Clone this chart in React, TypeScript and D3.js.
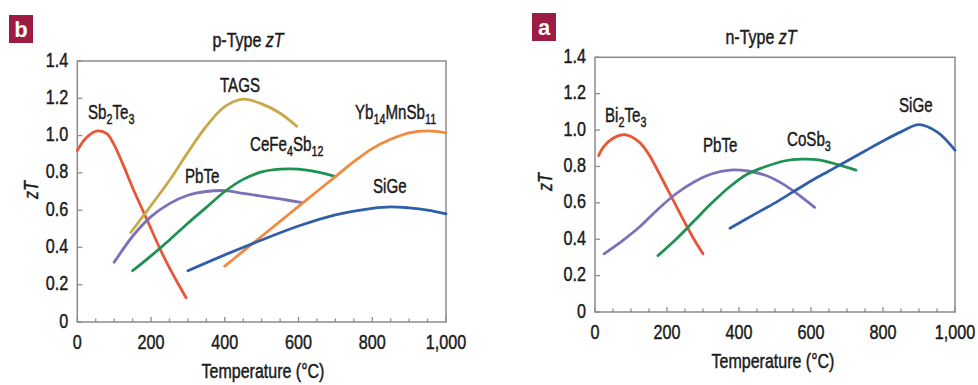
import React from "react";
import * as d3 from "d3";

type Pt = [number, number];

// p-type series (temperature °C, zT)
const pSb2Te3: Pt[] = [[0,0.92],[25,0.99],[55,1.025],[80,1.01],[100,0.95],[125,0.84],[150,0.72],[175,0.61],[200,0.50],[225,0.39],[250,0.29],[275,0.20],[295,0.13]];
const pTAGS: Pt[] = [[145,0.48],[200,0.625],[250,0.76],[300,0.91],[350,1.05],[400,1.155],[450,1.195],[500,1.17],[550,1.12],[595,1.05]];
const pPbTe: Pt[] = [[100,0.32],[150,0.46],[200,0.565],[250,0.635],[300,0.68],[350,0.70],[400,0.705],[450,0.69],[500,0.675],[550,0.66],[610,0.64]];
const pCeFe4Sb12: Pt[] = [[150,0.275],[200,0.355],[250,0.44],[300,0.53],[350,0.615],[400,0.70],[450,0.765],[500,0.805],[550,0.82],[600,0.82],[650,0.805],[700,0.78]];
const pYb14MnSb11: Pt[] = [[400,0.30],[450,0.38],[500,0.46],[550,0.54],[600,0.62],[650,0.70],[700,0.78],[750,0.86],[800,0.93],[850,0.98],[900,1.015],[950,1.025],[1000,1.015]];
const pSiGe: Pt[] = [[300,0.275],[400,0.36],[500,0.44],[600,0.515],[700,0.575],[800,0.61],[850,0.618],[900,0.612],[950,0.60],[1000,0.58]];

// n-type series
const nBi2Te3: Pt[] = [[10,0.86],[25,0.91],[50,0.955],[80,0.975],[100,0.965],[125,0.93],[150,0.865],[175,0.775],[200,0.68],[225,0.585],[250,0.49],[275,0.40],[300,0.32]];
const nPbTe: Pt[] = [[25,0.32],[75,0.39],[125,0.47],[175,0.565],[225,0.65],[275,0.715],[325,0.76],[375,0.78],[425,0.775],[475,0.75],[525,0.70],[575,0.63],[610,0.575]];
const nCoSb3: Pt[] = [[175,0.31],[225,0.40],[275,0.50],[325,0.60],[375,0.69],[425,0.76],[475,0.80],[525,0.83],[575,0.84],[625,0.835],[675,0.81],[725,0.78]];
const nSiGe: Pt[] = [[375,0.46],[450,0.545],[500,0.60],[550,0.66],[600,0.72],[650,0.775],[700,0.83],[750,0.885],[800,0.94],[850,0.99],[900,1.03],[950,0.99],[1000,0.89]];

const xTicks = [0, 200, 400, 600, 800, 1000];
const xMinorTicks = d3.range(0, 1001, 50);
const yTicks = [0, 0.2, 0.4, 0.6, 0.8, 1.0, 1.2, 1.4];

const COLORS = {
  red: "#e9553b",
  gold: "#c9a848",
  purple: "#7d70b9",
  green: "#1d9253",
  orange: "#f08a3e",
  blue: "#2f5fa8",
};

type Label = { parts: { t: string; sub?: boolean }[]; x: number; y: number };
type Panel = {
  letter: string;
  title: string;
  x0: number; x1: number; y0: number; y1: number;
  series: { data: Pt[]; color: string }[];
  labels: Label[];
  titleX: number; titleY: number;
  letterX: number; letterY: number;
  zTx: number; zTy: number;
  xTitleX: number; xTitleY: number;
};

const FONT = "'Liberation Sans', Arial, sans-serif";
const INK = "#1a1a1a";

function CText({ x, y, sx, size, anchor, children }: { x: number; y: number; sx: number; size: number; anchor?: string; children: React.ReactNode }) {
  return (
    <text transform={`translate(${x},${y}) scale(${sx},1)`} textAnchor={anchor || "start"} fontSize={size} fontFamily={FONT} fill={INK} stroke={INK} strokeWidth={0.45}>
      {children}
    </text>
  );
}

const panels: Panel[] = [
  {
    letter: "b", title: "p-Type", x0: 77.3, x1: 446, y0: 322, y1: 61,
    series: [
      { data: pSb2Te3, color: COLORS.red },
      { data: pTAGS, color: COLORS.gold },
      { data: pPbTe, color: COLORS.purple },
      { data: pCeFe4Sb12, color: COLORS.green },
      { data: pYb14MnSb11, color: COLORS.orange },
      { data: pSiGe, color: COLORS.blue },
    ],
    labels: [
      { parts: [{ t: "Sb" }, { t: "2", sub: true }, { t: "Te" }, { t: "3", sub: true }], x: 88, y: 119 },
      { parts: [{ t: "TAGS" }], x: 220, y: 92 },
      { parts: [{ t: "Yb" }, { t: "14", sub: true }, { t: "MnSb" }, { t: "11", sub: true }], x: 355, y: 119 },
      { parts: [{ t: "CeFe" }, { t: "4", sub: true }, { t: "Sb" }, { t: "12", sub: true }], x: 250, y: 151 },
      { parts: [{ t: "PbTe" }], x: 185, y: 183 },
      { parts: [{ t: "SiGe" }], x: 373, y: 193 },
    ],
    titleX: 248, titleY: 47, letterX: 9, letterY: 15, zTx: 32, zTy: 190, xTitleX: 263, xTitleY: 378,
  },
  {
    letter: "a", title: "n-Type", x0: 595, x1: 955, y0: 312, y1: 57.3,
    series: [
      { data: nBi2Te3, color: COLORS.red },
      { data: nPbTe, color: COLORS.purple },
      { data: nCoSb3, color: COLORS.green },
      { data: nSiGe, color: COLORS.blue },
    ],
    labels: [
      { parts: [{ t: "Bi" }, { t: "2", sub: true }, { t: "Te" }, { t: "3", sub: true }], x: 605, y: 122 },
      { parts: [{ t: "PbTe" }], x: 703, y: 152 },
      { parts: [{ t: "CoSb" }, { t: "3", sub: true }], x: 787, y: 146 },
      { parts: [{ t: "SiGe" }], x: 899, y: 112 },
    ],
    titleX: 761, titleY: 44, letterX: 532, letterY: 13, zTx: 546, zTy: 182, xTitleX: 773, xTitleY: 368,
  },
];

function LabelText({ l }: { l: Label }) {
  return (
    <CText x={l.x} y={l.y} sx={0.72} size={21}>
      {l.parts.map((p, i) => {
        const prevSub = i > 0 && l.parts[i - 1].sub;
        const dy = p.sub ? (prevSub ? 0 : 5) : prevSub ? -5 : 0;
        return (
          <tspan key={i} dy={dy} fontSize={p.sub ? 15 : 21}>{p.t}</tspan>
        );
      })}
    </CText>
  );
}

function PanelView({ p }: { p: Panel }) {
  const x = d3.scaleLinear().domain([0, 1000]).range([p.x0, p.x1]);
  const y = d3.scaleLinear().domain([0, 1.4]).range([p.y0, p.y1]);
  const line = d3.line<Pt>().x((d) => x(d[0])).y((d) => y(d[1])).curve(d3.curveCatmullRom.alpha(0.5));
  const axisColor = "#8c8c8c";
  return (
    <g>
      <rect x={p.letterX} y={p.letterY} width={24} height={28} fill="#9c1c44" />
      <text x={p.letterX + 12} y={p.letterY + 22} textAnchor="middle" fontSize={22} fontWeight="bold" fontFamily={FONT} fill="#fff">{p.letter}</text>
      <CText x={p.titleX} y={p.titleY} sx={0.8} size={20} anchor="middle">
        {p.title} <tspan fontStyle="italic">zT</tspan>
      </CText>
      <rect x={p.x0} y={p.y1} width={p.x1 - p.x0} height={p.y0 - p.y1} fill="none" stroke={axisColor} strokeWidth={1.5} />
      {xMinorTicks.map((t) => (
        <line key={"m" + t} x1={x(t)} x2={x(t)} y1={p.y0} y2={p.y0 - (t % 200 === 0 ? 5 : 3.5)} stroke={axisColor} strokeWidth={1.3} />
      ))}
      {yTicks.map((t) => (
        <line key={"y" + t} x1={p.x0} x2={p.x0 + 5} y1={y(t)} y2={y(t)} stroke={axisColor} strokeWidth={1.3} />
      ))}
      {xTicks.map((t) => (
        <CText key={"xl" + t} x={x(t)} y={p.y0 + 27} sx={0.77} size={21} anchor="middle">
          {d3.format(",")(t)}
        </CText>
      ))}
      {yTicks.map((t) => (
        <CText key={"yl" + t} x={p.x0 - 9} y={y(t) + 5.5} sx={0.77} size={21} anchor="end">
          {t === 0 ? "0" : d3.format(".1f")(t)}
        </CText>
      ))}
      <CText x={p.xTitleX} y={p.xTitleY} sx={0.8} size={20} anchor="middle">Temperature (°C)</CText>
      <text transform={`translate(${p.zTx + 6},${p.zTy}) rotate(-90) scale(0.8,1)`} textAnchor="middle" fontSize={20} fontStyle="italic" fontFamily={FONT} fill={INK} stroke={INK} strokeWidth={0.45}>zT</text>
      {p.series.map((s, i) => (
        <path key={i} d={line(s.data) || ""} fill="none" stroke={s.color} strokeWidth={2.8} strokeLinecap="round" />
      ))}
      {p.labels.map((l, i) => <LabelText key={i} l={l} />)}
    </g>
  );
}

export default function App() {
  return (
    <svg width={978} height={385} style={{ position: "absolute", left: 0, top: 0, background: "#fff" }}>
      <rect width={978} height={385} fill="#fff" />
      {panels.map((p) => <PanelView key={p.letter} p={p} />)}
    </svg>
  );
}
